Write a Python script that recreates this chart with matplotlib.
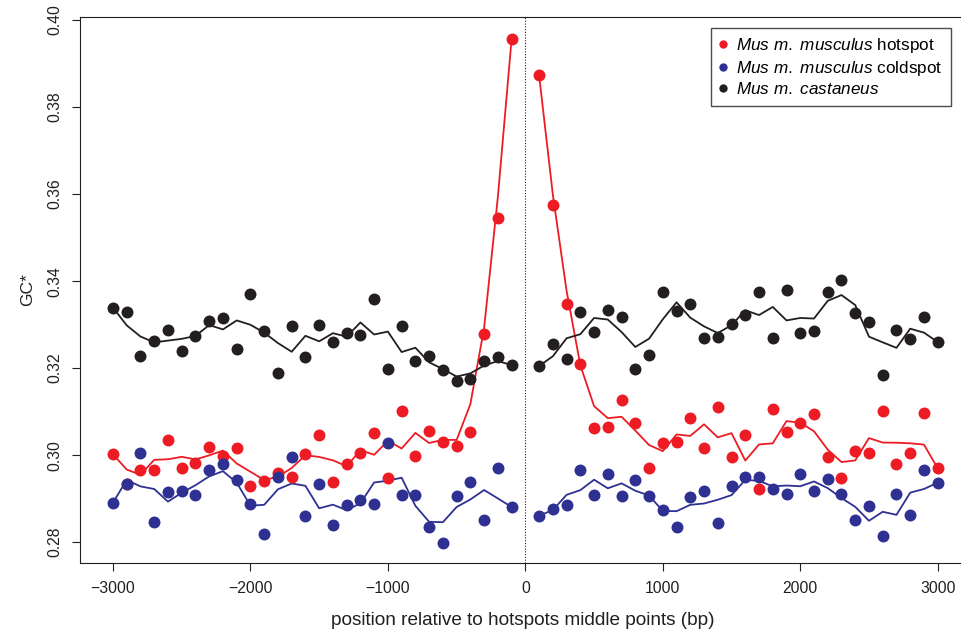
import matplotlib
matplotlib.use("Agg")
import matplotlib.pyplot as plt
import numpy as np
import pandas as pd

plt.rcParams['font.family'] = ['Liberation Sans', 'DejaVu Sans']
plt.rcParams['mathtext.fontset'] = 'custom'
plt.rcParams['mathtext.rm'] = 'Liberation Sans'
plt.rcParams['mathtext.it'] = 'Liberation Sans:italic'

# positions (bp), both sides of the hotspot middle point
pos_left = np.arange(-3000, 0, 100)
pos_right = np.arange(100, 3001, 100)

# Mus m. musculus hotspot
hot_left = [0.3002, 0.2933, 0.2966, 0.2966, 0.3036, 0.2970, 0.2983, 0.3018, 0.2998, 0.3016,
            0.2929, 0.2941, 0.2959, 0.2951, 0.3002, 0.3047, 0.2939, 0.2979, 0.3005, 0.3051,
            0.2947, 0.3101, 0.2998, 0.3055, 0.3031, 0.3020, 0.3054, 0.3278, 0.3546, 0.3956]
hot_right = [0.3873, 0.3576, 0.3347, 0.3210, 0.3063, 0.3065, 0.3127, 0.3073, 0.2970, 0.3027,
             0.3031, 0.3085, 0.3017, 0.3111, 0.2995, 0.3046, 0.2922, 0.3106, 0.3054, 0.3075,
             0.3095, 0.2995, 0.2948, 0.3010, 0.3006, 0.3102, 0.2979, 0.3005, 0.3098, 0.2970]

# Mus m. musculus coldspot
cold_left = [0.2891, 0.2933, 0.3005, 0.2847, 0.2915, 0.2918, 0.2908, 0.2967, 0.2979, 0.2944,
             0.2888, 0.2820, 0.2950, 0.2995, 0.2860, 0.2934, 0.2840, 0.2885, 0.2896, 0.2888,
             0.3028, 0.2908, 0.2909, 0.2834, 0.2798, 0.2906, 0.2939, 0.2850, 0.2971, 0.2881]
cold_right = [0.2861, 0.2876, 0.2885, 0.2966, 0.2908, 0.2957, 0.2907, 0.2942, 0.2906, 0.2874,
              0.2836, 0.2904, 0.2918, 0.2845, 0.2930, 0.2950, 0.2950, 0.2923, 0.2912, 0.2956,
              0.2918, 0.2945, 0.2910, 0.2850, 0.2884, 0.2814, 0.2912, 0.2863, 0.2967, 0.2937]

# Mus m. castaneus
cast_left = [0.3339, 0.3328, 0.3228, 0.3262, 0.3288, 0.3240, 0.3274, 0.3308, 0.3315, 0.3244,
             0.3370, 0.3285, 0.3190, 0.3298, 0.3225, 0.3300, 0.3260, 0.3281, 0.3276, 0.3358,
             0.3198, 0.3296, 0.3217, 0.3228, 0.3195, 0.3171, 0.3176, 0.3217, 0.3225, 0.3207]
cast_right = [0.3205, 0.3255, 0.3222, 0.3329, 0.3283, 0.3334, 0.3318, 0.3197, 0.3231, 0.3375,
              0.3331, 0.3348, 0.3269, 0.3271, 0.3302, 0.3323, 0.3374, 0.3269, 0.3379, 0.3281,
              0.3286, 0.3375, 0.3403, 0.3326, 0.3306, 0.3185, 0.3287, 0.3268, 0.3317, 0.3260]

red = '#ED1C24'
blue = '#2E3192'
black = '#231F20'


def smooth(v):
    s = pd.Series(v)
    return s.rolling(3, center=True).mean().fillna(s)


fig = plt.figure(figsize=(9.62, 6.34), dpi=100)
ax = fig.add_axes([80 / 962, 1 - 562.7 / 634, 890.7 / 962, 546.2 / 634])

series = [
    (hot_left, hot_right, red, r'$\mathit{Mus\ m.\ musculus}$ hotspot'),
    (cold_left, cold_right, blue, r'$\mathit{Mus\ m.\ musculus}$ coldspot'),
    (cast_left, cast_right, black, r'$\mathit{Mus\ m.\ castaneus}$'),
]
for left, right, col, lab in series:
    for p, v in [(pos_left, left), (pos_right, right)]:
        ax.plot(p, smooth(v), color=col, lw=1.3, zorder=2)
        ax.plot(p, v, 'o', color=col, ms=8.6, mew=0, zorder=3)
    ax.plot([], [], 'o', color=col, ms=6, mew=0, label=lab)

ax.axvline(0, color=black, ls=(0, (1, 1.5)), lw=0.8, zorder=1)

ax.set_xlim(-3240, 3240)
ax.set_ylim(0.2753, 0.4008)
ax.set_xticks(np.arange(-3000, 3001, 1000))
ax.set_yticks(np.arange(0.28, 0.401, 0.02))
ax.set_yticklabels(['%.2f' % t for t in np.arange(0.28, 0.401, 0.02)])
ax.tick_params(direction='out', length=6, width=0.8, color=black, labelsize=11.3,
               labelcolor=black)
ax.tick_params(axis='x', pad=7)
ax.tick_params(axis='y', pad=7)
for lbl in ax.get_yticklabels():
    lbl.set_rotation(90)
    lbl.set_va('center')
for sp in ax.spines.values():
    sp.set_linewidth(0.8)
    sp.set_color(black)

ax.set_xlabel('position relative to hotspots middle points (bp)', fontsize=13.7,
              color=black, va='center')
ax.xaxis.set_label_coords((523 - 80) / 890.7, (562.7 - 620.7) / 546.2)
ax.set_ylabel('GC*', fontsize=12.6, color=black, va='center')
ax.yaxis.set_label_coords((28 - 80) / 890.7, 0.5)

leg = ax.legend(loc='upper right', bbox_to_anchor=(950.7 / 962, 1 - 27.7 / 634),
                bbox_transform=fig.transFigure, borderaxespad=0, fontsize=12.3,
                frameon=True, fancybox=False, handlelength=0.4, handletextpad=0.55,
                labelspacing=0.2, borderpad=0.5)
leg.get_frame().set_edgecolor(black)
leg.get_frame().set_linewidth(1.0)

fig.savefig('out.png', dpi=100)
